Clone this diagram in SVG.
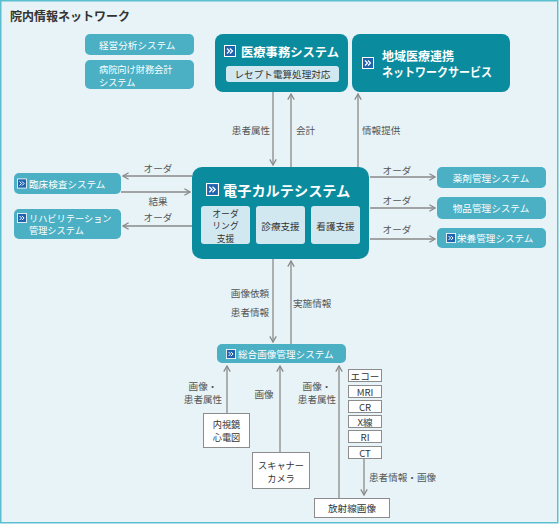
<svg xmlns="http://www.w3.org/2000/svg" xmlns:xlink="http://www.w3.org/1999/xlink" width="559" height="524" viewBox="0 0 559 524">
<style>
text{font-family:"Noto Sans CJK JP","Noto Sans",sans-serif;dominant-baseline:central}
.dk{fill:#0a8c9e}
.md{fill:#4bb0c4}
.lt{fill:#d2e8f0}
.wb{fill:#ffffff;stroke:#8c8c8c;stroke-width:1}
.tw{fill:#ffffff;font-size:9.6px}
.tb{fill:#ffffff;font-weight:bold}
.td{fill:#333333;font-size:9.6px}
.sm{font-size:9.2px}
.xs{font-size:8.8px}
.lb{fill:#555555;font-size:9.6px}
.ln{stroke:#8a8a8a;stroke-width:1.3;fill:none}
.ar{marker-end:url(#ah)}
</style>
<defs>
<marker id="ah" viewBox="0 0 10 10" refX="9" refY="5" markerWidth="8" markerHeight="8" markerUnits="userSpaceOnUse" orient="auto">
<path d="M2,1 L9,5 L2,9" fill="none" stroke="#8a8a8a" stroke-width="1.6"/>
</marker>
<symbol id="ic" viewBox="0 0 12 12" overflow="visible">
<rect x="0.5" y="0.5" width="11" height="11" fill="#1f62ae" stroke="#ffffff" stroke-width="1"/>
<path d="M3,3.5 L5.5,6 L3,8.5 M6,3.5 L8.5,6 L6,8.5" fill="none" stroke="#ffffff" stroke-width="1.2"/>
</symbol>
</defs>
<rect x="0.75" y="0.75" width="557" height="522" fill="#e7f3f6" stroke="#5cbfd0" stroke-width="1.5"/>
<text x="10" y="15" font-size="12" font-weight="bold" fill="#333333">院内情報ネットワーク</text>

<g id="connectors">
<line class="ln ar" x1="273" y1="92" x2="273" y2="165"/>
<line class="ln ar" x1="291" y1="167" x2="291" y2="94"/>
<line class="ln ar" x1="358" y1="167" x2="358" y2="94"/>
<line class="ln ar" x1="192" y1="176" x2="123" y2="176"/>
<line class="ln ar" x1="121" y1="192" x2="190" y2="192"/>
<line class="ln ar" x1="192" y1="226" x2="123" y2="226"/>
<line class="ln ar" x1="370" y1="177" x2="435" y2="177"/>
<line class="ln ar" x1="370" y1="208" x2="435" y2="208"/>
<line class="ln ar" x1="370" y1="239" x2="435" y2="239"/>
<line class="ln ar" x1="273" y1="259" x2="273" y2="342"/>
<line class="ln ar" x1="291" y1="344" x2="291" y2="261"/>
<line class="ln ar" x1="227" y1="413" x2="227" y2="366"/>
<line class="ln ar" x1="280" y1="452" x2="280" y2="366"/>
<line class="ln ar" x1="339" y1="498" x2="339" y2="366"/>
<line class="ln ar" x1="364" y1="459" x2="364" y2="495"/>
<text class="lb" x="251" y="130" text-anchor="middle">患者属性</text>
<text class="lb" x="296" y="130">会計</text>
<text class="lb" x="362" y="130">情報提供</text>
<text class="lb" x="158" y="168" text-anchor="middle">オーダ</text>
<text class="lb" x="158" y="201" text-anchor="middle">結果</text>
<text class="lb" x="158" y="217" text-anchor="middle">オーダ</text>
<text class="lb" x="397" y="170" text-anchor="middle">オーダ</text>
<text class="lb" x="397" y="200" text-anchor="middle">オーダ</text>
<text class="lb" x="397" y="229" text-anchor="middle">オーダ</text>
<text class="lb" x="250" y="293" text-anchor="middle">画像依頼</text>
<text class="lb" x="250" y="312" text-anchor="middle">患者情報</text>
<text class="lb" x="293" y="303">実施情報</text>
<text class="lb sm" x="203" y="385.5" text-anchor="middle">画像・</text>
<text class="lb sm" x="203" y="399" text-anchor="middle">患者属性</text>
<text class="lb" x="264" y="394" text-anchor="middle">画像</text>
<text class="lb sm" x="317" y="385.5" text-anchor="middle">画像・</text>
<text class="lb sm" x="317" y="399" text-anchor="middle">患者属性</text>
<text class="lb" x="369" y="477">患者情報・画像</text>
</g>

<g id="keiei">
<rect class="md" x="85" y="34" width="109" height="21" rx="5"/>
<text class="tw" x="99" y="45">経営分析システム</text>
</g>
<g id="zaimu">
<rect class="md" x="85" y="60" width="109" height="29" rx="5"/>
<text class="tw sm" x="99" y="69">病院向け財務会計</text>
<text class="tw sm" x="99" y="81.5">システム</text>
</g>

<g id="iryojimu">
<rect class="dk" x="215" y="34" width="133" height="58" rx="8"/>
<use xlink:href="#ic" x="224" y="45" width="12" height="12"/>
<text class="tb" x="241" y="51.5" font-size="12.3">医療事務システム</text>
<rect class="lt" x="226" y="66" width="113" height="16" rx="3"/>
<text class="td" x="282.5" y="74" text-anchor="middle">レセプト電算処理対応</text>
</g>

<g id="chiiki">
<rect class="dk" x="352" y="34" width="158" height="58" rx="8"/>
<use xlink:href="#ic" x="362" y="57" width="12" height="12"/>
<text class="tb" x="382" y="55" font-size="12">地域医療連携</text>
<text class="tb" x="382" y="71" font-size="12" textLength="110" lengthAdjust="spacingAndGlyphs">ネットワークサービス</text>
</g>

<g id="denshi">
<rect class="dk" x="192" y="167" width="177" height="92" rx="10"/>
<use xlink:href="#ic" x="206" y="183" width="13" height="13"/>
<text class="tb" x="223" y="189.5" font-size="14.2">電子カルテシステム</text>
<rect class="lt" x="201" y="206" width="49" height="38" rx="3"/>
<text class="td xs" x="225.5" y="213" text-anchor="middle">オーダ</text>
<text class="td xs" x="225.5" y="225.5" text-anchor="middle">リング</text>
<text class="td xs" x="225.5" y="238" text-anchor="middle">支援</text>
<rect class="lt" x="256" y="206" width="49" height="38" rx="3"/>
<text class="td" x="280.5" y="225.5" text-anchor="middle">診療支援</text>
<rect class="lt" x="311" y="206" width="49" height="38" rx="3"/>
<text class="td" x="335.5" y="225.5" text-anchor="middle">看護支援</text>
</g>

<g id="rinsho">
<rect class="md" x="14" y="173" width="107" height="21" rx="5"/>
<use xlink:href="#ic" x="17" y="178.5" width="10" height="10"/>
<text class="tw" x="29" y="184">臨床検査システム</text>
</g>
<g id="riha">
<rect class="md" x="14" y="209" width="107" height="30" rx="5"/>
<use xlink:href="#ic" x="17" y="213" width="10" height="10"/>
<text class="tw sm" x="29" y="217.5">リハビリテーション</text>
<text class="tw sm" x="29" y="230">管理システム</text>
</g>

<g id="yakuzai">
<rect class="md" x="437" y="167" width="109" height="21" rx="5"/>
<text class="tw" x="491" y="177.5" text-anchor="middle">薬剤管理システム</text>
</g>
<g id="buppin">
<rect class="md" x="437" y="197" width="109" height="22" rx="5"/>
<text class="tw" x="491" y="208" text-anchor="middle">物品管理システム</text>
</g>
<g id="eiyo">
<rect class="md" x="437" y="228" width="109" height="20" rx="5"/>
<use xlink:href="#ic" x="446" y="233" width="10" height="10"/>
<text class="tw" x="457" y="238">栄養管理システム</text>
</g>

<g id="sogogazo">
<rect class="md" x="217" y="344" width="129" height="19" rx="5"/>
<use xlink:href="#ic" x="226" y="349" width="10" height="10"/>
<text class="tw" x="238" y="354">総合画像管理システム</text>
</g>

<g id="naishikyo">
<rect class="wb" x="203.5" y="413.5" width="46" height="34"/>
<text class="td sm" x="226.5" y="424" text-anchor="middle">内視鏡</text>
<text class="td sm" x="226.5" y="437" text-anchor="middle">心電図</text>
</g>
<g id="scanner">
<rect class="wb" x="252.5" y="452.5" width="57" height="36"/>
<text class="td sm" x="281" y="465" text-anchor="middle">スキャナー</text>
<text class="td sm" x="281" y="478" text-anchor="middle">カメラ</text>
</g>
<g id="hoshasen">
<rect class="wb" x="314.5" y="498.5" width="75" height="19"/>
<text class="td" x="352" y="508" text-anchor="middle">放射線画像</text>
</g>
<g id="modalities">
<rect class="wb" x="348.5" y="369.5" width="33" height="12"/>
<text class="td" x="365" y="375.5" text-anchor="middle">エコー</text>
<rect class="wb" x="348.5" y="385.5" width="33" height="12"/>
<text class="td" x="365" y="391.5" text-anchor="middle">MRI</text>
<rect class="wb" x="348.5" y="400.5" width="33" height="12"/>
<text class="td" x="365" y="406.5" text-anchor="middle">CR</text>
<rect class="wb" x="348.5" y="415.5" width="33" height="12"/>
<text class="td" x="365" y="421.5" text-anchor="middle">X線</text>
<rect class="wb" x="348.5" y="430.5" width="33" height="12"/>
<text class="td" x="365" y="436.5" text-anchor="middle">RI</text>
<rect class="wb" x="348.5" y="446.5" width="33" height="12"/>
<text class="td" x="365" y="452.5" text-anchor="middle">CT</text>
</g>
</svg>
